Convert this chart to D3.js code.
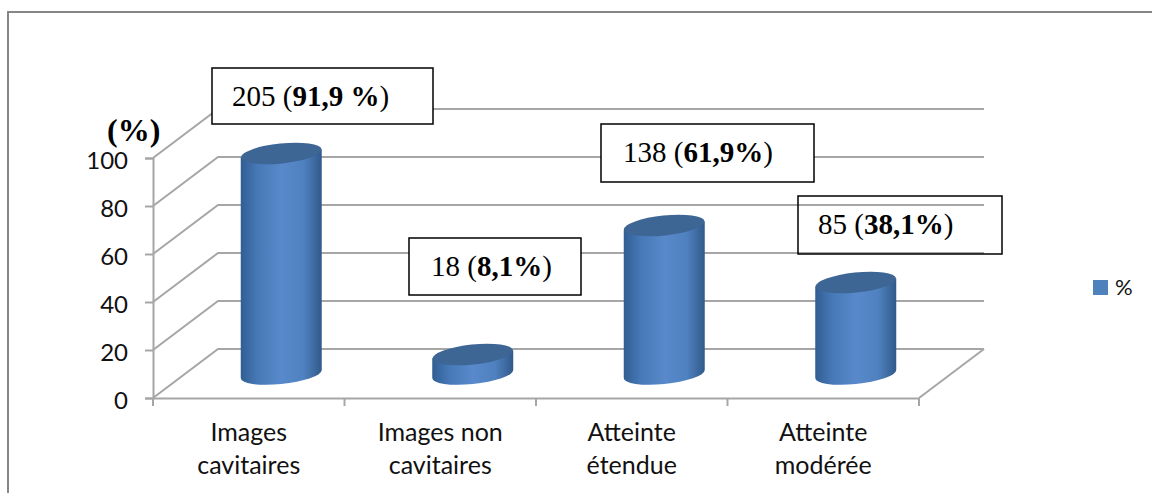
<!DOCTYPE html>
<html lang='en'>

<head>
   <meta charset='UTF-8'>
   <title>D3 - 3D cylinders</title>
   <script src='https://d3js.org/d3.v7.min.js'></script>
   <style>
      body {
         margin: 0;
         background: #fff;
      }

      svg {
         display: block;
      }

      .tick text,
      .cat,
      .legend-label {
         font-family: Lato, sans-serif;
         fill: #111;
      }

      .note {
         font-family: 'Liberation Serif', serif;
         font-size: 29px;
         fill: #000;
      }
   </style>
</head>

<body>
   <div id='svg-container'></div>
   <script>
      const categories = ['Images cavitaires', 'Images non cavitaires', 'Atteinte étendue', 'Atteinte modérée'];
      const values = [91.9, 8.1, 61.9, 38.1];
      const counts = [205, 18, 138, 85];
      const percentLabels = ['91,9 %', '8,1%', '61,9%', '38,1%'];
      const yTicks = [0, 20, 40, 60, 80, 100];

      const canvas = d3.select('#svg-container').append('svg').attr('width', 1152).attr('height', 493);

      // outer frame, only top and left are in the picture
      canvas.append('path')
         .attr('d', 'M8,493V12H1152')
         .attr('fill', 'none')
         .attr('stroke', '#868686')
         .attr('stroke-width', 2);

      const x = d3.scaleBand().domain(categories).range([153, 919]);
      const y = d3.scaleLinear().domain([0, 100]).range([398, 158]);

      // 3d depth of the chart box
      const depthX = 65;
      const depthY = -49;

      const defs = canvas.append('defs');
      const grad = defs.append('linearGradient').attr('id', 'cyl');
      [[0, '#315d92'], [0.2, '#4678b6'], [0.5, '#5889cb'], [0.78, '#4f80bf'], [1, '#315a8a']]
         .forEach(d => grad.append('stop').attr('offset', d[0]).attr('stop-color', d[1]));

      // walls
      const grid = canvas.append('g').attr('fill', 'none').attr('stroke', '#a6a6a6').attr('stroke-width', 2);
      yTicks.forEach(t => {
         grid.append('path')
            .attr('d', `M153,${y(t)}L${153 + depthX},${y(t) + depthY}H${919 + depthX}`);
      });
      grid.append('path').attr('d', `M919,398L${919 + depthX},${y(0) + depthY}`);

      // axes
      const leftAxis = d3.axisLeft(y).tickValues(yTicks).tickSize(8).tickPadding(17);
      const gy = canvas.append('g').attr('transform', 'translate(153,0)').call(leftAxis);
      const bottomAxis = d3.axisBottom(x).tickValues([]).tickSizeOuter(0);
      canvas.append('g').attr('transform', 'translate(0,398)').call(bottomAxis);
      const edges = categories.map(c => x(c)).concat(919);
      canvas.append('g').selectAll('line').data(edges).join('line')
         .attr('x1', d => d).attr('x2', d => d)
         .attr('y1', 398).attr('y2', 406)
         .attr('stroke', '#a6a6a6').attr('stroke-width', 2);
      canvas.selectAll('.domain').attr('stroke', '#a6a6a6').attr('stroke-width', 2);
      gy.selectAll('.tick line').attr('stroke', '#a6a6a6').attr('stroke-width', 2);
      gy.selectAll('.tick text').attr('font-size', 24).attr('dy', '0.42em');

      // cylinders
      const rx = 40.5;
      const ry = 10;
      const tilt = -6;
      const slopeY = 4;
      const baseY = y(0) - 24;
      const cyl = canvas.append('g');
      categories.forEach((c, i) => {
         const cx = x(c) + x.bandwidth() / 2 + depthX / 2;
         const h = y(0) - y(values[i]);
         const top = baseY - h;
         const body = `M${cx - rx},${top + slopeY}V${baseY + slopeY}` +
            `A${rx},${ry},${tilt},0,0,${cx + rx},${baseY - slopeY}V${top - slopeY}Z`;
         cyl.append('path').attr('d', body).attr('fill', 'url(#cyl)');
         cyl.append('ellipse')
            .attr('cx', cx).attr('cy', top)
            .attr('rx', rx).attr('ry', ry)
            .attr('transform', `rotate(${tilt} ${cx} ${top})`)
            .attr('fill', '#3d6695');
      });

      // category labels
      const catLines = categories.map(c => {
         const w = c.split(' ');
         return [w.slice(0, -1).join(' '), w[w.length - 1]];
      });
      categories.forEach((c, i) => {
         const t = canvas.append('text')
            .attr('class', 'cat')
            .attr('text-anchor', 'middle')
            .attr('font-size', 25);
         catLines[i].forEach((l, j) => {
            t.append('tspan')
               .attr('x', x(c) + x.bandwidth() / 2)
               .attr('y', 441 + j * 33)
               .text(l);
         });
      });

      // legend
      canvas.append('rect').attr('x', 1093).attr('y', 280).attr('width', 15).attr('height', 15).attr('fill', '#4f81bd');
      canvas.append('text').attr('class', 'legend-label').attr('x', 1115).attr('y', 295).attr('font-size', 22).text('%');

      // axis title
      canvas.append('text')
         .attr('x', 107).attr('y', 141)
         .attr('font-family', 'Liberation Serif, serif')
         .attr('font-weight', 'bold')
         .attr('font-size', 32)
         .text('(%)');

      // boxed notes
      const boxX = [212, 409, 601, 798];
      const boxY = [68, 238, 124, 196];
      const boxW = [221, 172, 213, 204];
      const boxH = [56, 57, 58, 58];
      const textX = [232, 431, 623, 818];
      categories.forEach((c, i) => {
         canvas.append('rect')
            .attr('x', boxX[i]).attr('y', boxY[i])
            .attr('width', boxW[i]).attr('height', boxH[i])
            .attr('fill', i === 3 ? 'none' : '#fff')
            .attr('stroke', '#000').attr('stroke-width', 1.5);
         const t = canvas.append('text').attr('class', 'note')
            .attr('x', textX[i]).attr('y', boxY[i] + 38);
         t.append('tspan').text(`${counts[i]} (`);
         t.append('tspan').attr('font-weight', 'bold').text(percentLabels[i]);
         t.append('tspan').text(')');
      });
   </script>
</body>

</html>
